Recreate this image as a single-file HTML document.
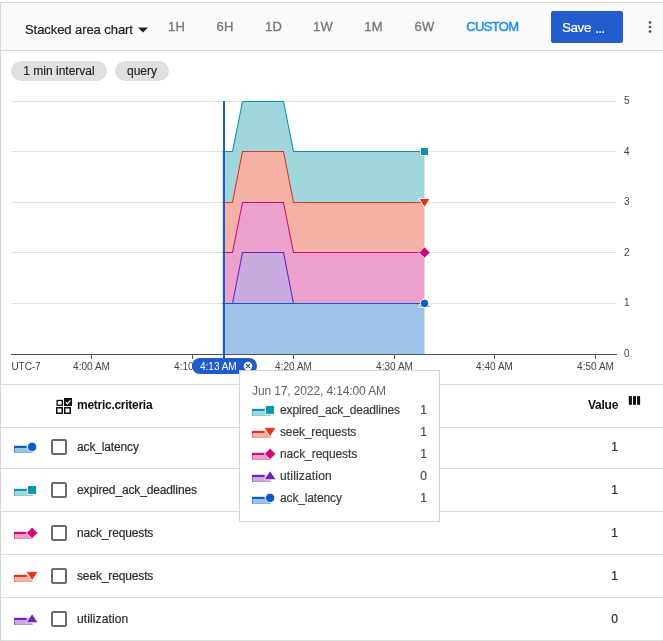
<!DOCTYPE html>
<html>
<head>
<meta charset="utf-8">
<style>
html,body{margin:0;padding:0;}
body{width:663px;height:641px;background:#fff;position:relative;overflow:hidden;font-family:"Liberation Sans",sans-serif;color:#212121;}
.abs{position:absolute;}
#wrap{position:absolute;left:0;top:0;width:663px;height:641px;will-change:transform;}
.t{position:absolute;white-space:nowrap;line-height:1;}
.tb{position:absolute;left:0;top:2px;width:663px;height:47px;background:#fafafa;border-top:1px solid #d9d9d9;border-bottom:1px solid #dcdcdc;box-sizing:content-box;}
.rng{position:absolute;top:20px;font-size:13px;color:#757575;-webkit-text-stroke:0.3px #757575;transform:translateX(-50%);white-space:nowrap;line-height:1;letter-spacing:0.2px;}
.chip{position:absolute;top:61px;height:20px;border-radius:10px;background:#e0e0e0;font-size:12px;line-height:20px;text-align:center;color:#212121;-webkit-text-stroke:0.15px #212121;white-space:nowrap;}
.ax{position:absolute;font-size:10px;letter-spacing:0.03px;color:#444;white-space:nowrap;line-height:1;}
.row{position:absolute;left:0;width:663px;height:1px;background:#dedede;}
.cb{position:absolute;left:51px;width:12px;height:12px;border:2px solid #6b6b6b;border-radius:2px;}
.nm{position:absolute;left:77px;letter-spacing:-0.14px;font-size:12px;color:#2b2b2b;-webkit-text-stroke:0.2px #2b2b2b;white-space:nowrap;line-height:1;}
.val{position:absolute;right:45px;font-size:12px;color:#2b2b2b;-webkit-text-stroke:0.2px #2b2b2b;white-space:nowrap;line-height:1;}
.tip{position:absolute;left:239px;top:370px;width:199px;height:150px;background:rgba(255,255,255,0.97);border:1px solid #d6d6d6;}
.tn{position:absolute;left:40px;letter-spacing:-0.14px;font-size:12px;color:#3c3c3c;-webkit-text-stroke:0.2px #3c3c3c;white-space:nowrap;line-height:1;}
.tv{position:absolute;left:180.3px;font-size:12px;color:#4a4a4a;-webkit-text-stroke:0.2px #4a4a4a;white-space:nowrap;line-height:1;}
</style>
</head>
<body>
<div id="wrap">
<!-- toolbar -->
<div class="tb"></div>
<div class="t" style="left:25px;top:23px;font-size:13px;color:#212121;letter-spacing:-0.07px;-webkit-text-stroke:0.2px #212121;" id="sac">Stacked area chart</div>
<svg class="abs" style="left:138px;top:27px" width="10" height="6"><path d="M0 0.5h10l-5 5z" fill="#212121"/></svg>
<div class="rng" style="left:176.5px">1H</div>
<div class="rng" style="left:225px">6H</div>
<div class="rng" style="left:273.5px">1D</div>
<div class="rng" style="left:323px">1W</div>
<div class="rng" style="left:373.5px">1M</div>
<div class="rng" style="left:424.5px">6W</div>
<div class="rng" style="left:492.3px;color:#1c8ee8;letter-spacing:-0.68px;-webkit-text-stroke:0.45px #1c8ee8">CUSTOM</div>
<div class="abs" style="left:551px;top:11px;width:72px;height:32px;background:#235dcd;border-radius:2px;"></div>
<div class="t" style="left:562px;top:20.5px;font-size:13.5px;color:#fff;letter-spacing:-0.45px;-webkit-text-stroke:0.2px #fff" id="save">Save</div>
<div class="t" style="left:595.2px;top:20.5px;font-size:14px;color:#fff;letter-spacing:-0.8px;-webkit-text-stroke:0.2px #fff" id="dots">...</div>
<svg class="abs" style="left:646px;top:19px" width="8" height="16"><circle cx="4" cy="3.5" r="1.35" fill="#4a4a4a"/><circle cx="4" cy="8" r="1.35" fill="#4a4a4a"/><circle cx="4" cy="12.5" r="1.35" fill="#4a4a4a"/></svg>

<!-- chips -->
<div class="chip" style="left:11px;width:96px;">1 min interval</div>
<div class="chip" style="left:115px;width:54px;">query</div>

<!-- chart -->
<svg class="abs" style="left:0;top:90px" width="663" height="290" viewBox="0 90 663 290">
  <g stroke="#e3e3e3" stroke-width="1">
    <line x1="11" x2="617" y1="101.5" y2="101.5"/>
    <line x1="11" x2="617" y1="151.5" y2="151.5"/>
    <line x1="11" x2="617" y1="202.5" y2="202.5"/>
    <line x1="11" x2="617" y1="252.5" y2="252.5"/>
    <line x1="11" x2="617" y1="303.5" y2="303.5"/>
  </g>
  <!-- areas -->
  <path d="M222.5 303.5H424.5V354H222.5z" fill="#9ec3e8"/>
  <path d="M222.5 303.5H232.5L242.5 252.5H283.5L293.5 303.5H424.5z" fill="none"/>
  <path d="M232.5 303.5L242.5 252.5H283.5L293.5 303.5z" fill="#c8ace0"/>
  <path d="M222.5 252.5H232.5L242.5 202.5H283.5L293.5 252.5H424.5V303.5H293.5L283.5 252.5H242.5L232.5 303.5H222.5z" fill="#eca0cc"/>
  <path d="M222.5 202.5H232.5L242.5 151.5H283.5L293.5 202.5H424.5V252.5H293.5L283.5 202.5H242.5L232.5 252.5H222.5z" fill="#f7b2a8"/>
  <path d="M222.5 151.5H232.5L242.5 101.5H283.5L293.5 151.5H424.5V202.5H293.5L283.5 151.5H242.5L232.5 202.5H222.5z" fill="#a0d7dc"/>
  <!-- lines -->
  <g fill="none" stroke-width="1.1">
    <path d="M222.5 303.5H232.5L242.5 252.5H283.5L293.5 303.5H424.5" stroke="#7023ba"/>
    <path d="M222.5 303.5H424.5" stroke="#0a5dc9"/>
    <path d="M222.5 252.5H232.5L242.5 202.5H283.5L293.5 252.5H424.5" stroke="#cf0a78"/>
    <path d="M222.5 202.5H232.5L242.5 151.5H283.5L293.5 202.5H424.5" stroke="#e5321a"/>
    <path d="M222.5 151.5H232.5L242.5 101.5H283.5L293.5 151.5H424.5" stroke="#0a97a6"/>
  </g>
  <!-- axis -->
  <line x1="11" x2="617" y1="354.5" y2="354.5" stroke="#555" stroke-width="1"/>
  <g stroke="#555" stroke-width="1">
    <line x1="91.5" x2="91.5" y1="354" y2="359"/>
    <line x1="192.5" x2="192.5" y1="354" y2="359"/>
    <line x1="293.5" x2="293.5" y1="354" y2="359"/>
    <line x1="394.5" x2="394.5" y1="354" y2="359"/>
    <line x1="494.5" x2="494.5" y1="354" y2="359"/>
    <line x1="595.5" x2="595.5" y1="354" y2="359"/>
  </g>
  <!-- cursor -->
  <rect x="223" y="101" width="2" height="258" fill="#205bcc"/>
  <!-- markers -->
  <path d="M418.3 307.1h12.4l-6.2 -8.2z" fill="#8a3fc8" stroke="#fff" stroke-width="1"/>
  <rect x="420.5" y="147.5" width="8" height="8" fill="#0a97a6" stroke="#fff" stroke-width="1"/>
  <path d="M418.8 198.5h11.4l-5.7 9z" fill="#e5321a" stroke="#fff" stroke-width="1"/>
  <path d="M424.5 246.8l5.7 5.7l-5.7 5.7l-5.7 -5.7z" fill="#cf0a78" stroke="#fff" stroke-width="1"/>
  <circle cx="424.5" cy="303.4" r="4.2" fill="#0a5dc9" stroke="#fff" stroke-width="1"/>
</svg>

<!-- axis labels -->
<div class="ax" style="left:624px;top:96.4px">5</div>
<div class="ax" style="left:624px;top:147.4px">4</div>
<div class="ax" style="left:624px;top:197.4px">3</div>
<div class="ax" style="left:624px;top:248.4px">2</div>
<div class="ax" style="left:624px;top:298.4px">1</div>
<div class="ax" style="left:624px;top:349.4px">0</div>
<div class="ax" style="left:11.5px;top:361.6px;letter-spacing:-0.1px">UTC-7</div>
<div class="ax" style="left:91.5px;top:361.6px;transform:translateX(-50%)">4:00 AM</div>
<div class="ax" style="left:192.5px;top:361.6px;transform:translateX(-50%)">4:10 AM</div>
<div class="ax" style="left:293.5px;top:361.6px;transform:translateX(-50%)">4:20 AM</div>
<div class="ax" style="left:394.5px;top:361.6px;transform:translateX(-50%)">4:30 AM</div>
<div class="ax" style="left:494.5px;top:361.6px;transform:translateX(-50%)">4:40 AM</div>
<div class="ax" style="left:595.5px;top:361.6px;transform:translateX(-50%)">4:50 AM</div>

<!-- cursor pill -->
<div class="abs" style="left:192px;top:358px;width:65px;height:16px;border-radius:8px;background:#205bcc;"></div>
<div class="t" style="left:200px;top:362px;font-size:10px;color:#fff;">4:13 AM</div>
<svg class="abs" style="left:242px;top:360px" width="12" height="12"><circle cx="6" cy="6" r="4.3" fill="#fff"/><path d="M4 4l4 4M8 4l-4 4" stroke="#205bcc" stroke-width="1.1"/></svg>

<!-- table -->
<div class="row" style="top:384px"></div>
<div class="row" style="top:427px"></div>
<div class="row" style="top:468px"></div>
<div class="row" style="top:511px"></div>
<div class="row" style="top:554px"></div>
<div class="row" style="top:597px"></div>
<div class="row" style="top:640px"></div>

<svg class="abs" style="left:56px;top:398px" width="16" height="16">
  <rect x="1.1" y="2.5" width="5.2" height="4.8" fill="none" stroke="#111" stroke-width="1.3"/>
  <rect x="0.75" y="9.75" width="5.5" height="5.5" fill="none" stroke="#111" stroke-width="1.5"/>
  <rect x="8.75" y="9.75" width="5.5" height="5.5" fill="none" stroke="#111" stroke-width="1.5"/>
  <rect x="8" y="0" width="8" height="8" fill="#111"/>
  <path d="M9.8 4.2l1.6 1.6l3 -3.4" fill="none" stroke="#fff" stroke-width="1.2"/>
</svg>
<div class="t" style="left:77px;top:399px;font-size:12px;font-weight:bold;color:#111;letter-spacing:-0.27px;" id="mc">metric.criteria</div>
<div class="t" style="left:588px;top:399px;font-size:12px;font-weight:bold;color:#111;letter-spacing:-0.25px;" id="vh">Value</div>
<svg class="abs" style="left:628px;top:396px" width="13" height="10"><rect x="0.8" y="0.1" width="3.1" height="8.7" fill="#111"/><rect x="5" y="0.1" width="3" height="8.7" fill="#111"/><rect x="9.1" y="0.1" width="3" height="8.7" fill="#111"/></svg>

<!-- rows -->
<svg class="abs" style="left:12px;top:440px" width="28" height="16"><rect x="2" y="6" width="18.3" height="7" fill="#9ec3e8"/><rect x="2" y="6" width="1" height="7" fill="#4f8fda"/><rect x="2" y="12.5" width="19.3" height="0.5" fill="#4f8fda" opacity="0.6"/><rect x="2" y="5.8" width="12.5" height="2.2" fill="#0a5dc9"/><circle cx="20.1" cy="6.9" r="4.65" fill="#0a5dc9" stroke="#fff" stroke-width="0.8"/></svg>
<div class="cb" style="top:439px"></div>
<div class="nm" style="top:441px">ack_latency</div>
<div class="val" style="top:441px">1</div>

<svg class="abs" style="left:12px;top:483px" width="28" height="16"><rect x="2" y="6" width="18.3" height="7" fill="#9fd7dd"/><rect x="2" y="6" width="1" height="7" fill="#55b8c3"/><rect x="2" y="12.5" width="19.3" height="0.5" fill="#55b8c3" opacity="0.6"/><rect x="2" y="5.8" width="12.5" height="2.2" fill="#0a97a6"/><rect x="15.65" y="2.6" width="8.9" height="8.7" fill="#0a97a6" stroke="#fff" stroke-width="0.8"/></svg>
<div class="cb" style="top:482px"></div>
<div class="nm" style="top:484px">expired_ack_deadlines</div>
<div class="val" style="top:484px">1</div>

<svg class="abs" style="left:12px;top:526px" width="28" height="16"><rect x="2" y="6" width="18.3" height="7" fill="#eca0cc"/><rect x="2" y="6" width="1" height="7" fill="#de5aa4"/><rect x="2" y="12.5" width="19.3" height="0.5" fill="#de5aa4" opacity="0.6"/><rect x="2" y="5.8" width="12.5" height="2.2" fill="#cf0a78"/><path d="M20.1 1.2l5.7 5.7l-5.7 5.7l-5.7 -5.7z" fill="#cf0a78" stroke="#fff" stroke-width="0.8"/></svg>
<div class="cb" style="top:525px"></div>
<div class="nm" style="top:527px">nack_requests</div>
<div class="val" style="top:527px">1</div>

<svg class="abs" style="left:12px;top:569px" width="28" height="16"><rect x="2" y="6" width="18.3" height="7" fill="#f7b2a8"/><rect x="2" y="6" width="1" height="7" fill="#ee7464"/><rect x="2" y="12.5" width="19.3" height="0.5" fill="#ee7464" opacity="0.6"/><rect x="2" y="5.8" width="12.5" height="2.2" fill="#e5321a"/><path d="M14.1 2.6h12l-6 9z" fill="#e5321a" stroke="#fff" stroke-width="0.8"/></svg>
<div class="cb" style="top:568px"></div>
<div class="nm" style="top:570px">seek_requests</div>
<div class="val" style="top:570px">1</div>

<svg class="abs" style="left:12px;top:612px" width="28" height="16"><rect x="2" y="6" width="18.3" height="7" fill="#c6aadf"/><rect x="2" y="6" width="1" height="7" fill="#9b67cd"/><rect x="2" y="12.5" width="19.3" height="0.5" fill="#9b67cd" opacity="0.6"/><rect x="2" y="5.8" width="12.5" height="2.2" fill="#7023ba"/><path d="M14.1 10.7h12l-6 -9z" fill="#7023ba" stroke="#fff" stroke-width="0.8"/></svg>
<div class="cb" style="top:611px"></div>
<div class="nm" style="top:613px;letter-spacing:0.12px">utilization</div>
<div class="val" style="top:613px">0</div>

<!-- tooltip -->
<div class="tip">
  <div class="t" style="left:12px;top:14px;font-size:12px;color:#62666a;letter-spacing:-0.12px;" id="tdate">Jun 17, 2022, 4:14:00 AM</div>

  <svg class="abs" style="left:10px;top:32px" width="28" height="16"><rect x="2" y="6" width="18.3" height="7" fill="#9fd7dd"/><rect x="2" y="6" width="1" height="7" fill="#55b8c3"/><rect x="2" y="12.5" width="19.3" height="0.5" fill="#55b8c3" opacity="0.6"/><rect x="2" y="5.8" width="12.5" height="2.2" fill="#0a97a6"/><rect x="15.65" y="2.6" width="8.9" height="8.7" fill="#0a97a6" stroke="#fff" stroke-width="0.8"/></svg>
  <div class="tn" style="top:33px">expired_ack_deadlines</div><div class="tv" style="top:33px">1</div>

  <svg class="abs" style="left:10px;top:54px" width="28" height="16"><rect x="2" y="6" width="18.3" height="7" fill="#f7b2a8"/><rect x="2" y="6" width="1" height="7" fill="#ee7464"/><rect x="2" y="12.5" width="19.3" height="0.5" fill="#ee7464" opacity="0.6"/><rect x="2" y="5.8" width="12.5" height="2.2" fill="#e5321a"/><path d="M14.1 2.6h12l-6 9z" fill="#e5321a" stroke="#fff" stroke-width="0.8"/></svg>
  <div class="tn" style="top:55px">seek_requests</div><div class="tv" style="top:55px">1</div>

  <svg class="abs" style="left:10px;top:76px" width="28" height="16"><rect x="2" y="6" width="18.3" height="7" fill="#eca0cc"/><rect x="2" y="6" width="1" height="7" fill="#de5aa4"/><rect x="2" y="12.5" width="19.3" height="0.5" fill="#de5aa4" opacity="0.6"/><rect x="2" y="5.8" width="12.5" height="2.2" fill="#cf0a78"/><path d="M20.1 1.2l5.7 5.7l-5.7 5.7l-5.7 -5.7z" fill="#cf0a78" stroke="#fff" stroke-width="0.8"/></svg>
  <div class="tn" style="top:77px;letter-spacing:-0.06px">nack_requests</div><div class="tv" style="top:77px">1</div>

  <svg class="abs" style="left:10px;top:98px" width="28" height="16"><rect x="2" y="6" width="18.3" height="7" fill="#c6aadf"/><rect x="2" y="6" width="1" height="7" fill="#9b67cd"/><rect x="2" y="12.5" width="19.3" height="0.5" fill="#9b67cd" opacity="0.6"/><rect x="2" y="5.8" width="12.5" height="2.2" fill="#7023ba"/><path d="M14.1 10.7h12l-6 -9z" fill="#7023ba" stroke="#fff" stroke-width="0.8"/></svg>
  <div class="tn" style="top:99px;letter-spacing:0.17px">utilization</div><div class="tv" style="top:99px">0</div>

  <svg class="abs" style="left:10px;top:120px" width="28" height="16"><rect x="2" y="6" width="18.3" height="7" fill="#9ec3e8"/><rect x="2" y="6" width="1" height="7" fill="#4f8fda"/><rect x="2" y="12.5" width="19.3" height="0.5" fill="#4f8fda" opacity="0.6"/><rect x="2" y="5.8" width="12.5" height="2.2" fill="#0a5dc9"/><circle cx="20.1" cy="6.9" r="4.65" fill="#0a5dc9" stroke="#fff" stroke-width="0.8"/></svg>
  <div class="tn" style="top:121px">ack_latency</div><div class="tv" style="top:121px">1</div>
</div>

<!-- left border -->
<div class="abs" style="left:0;top:2px;width:1px;height:639px;background:#d8d8d8;"></div>
</div>
</body>
</html>
